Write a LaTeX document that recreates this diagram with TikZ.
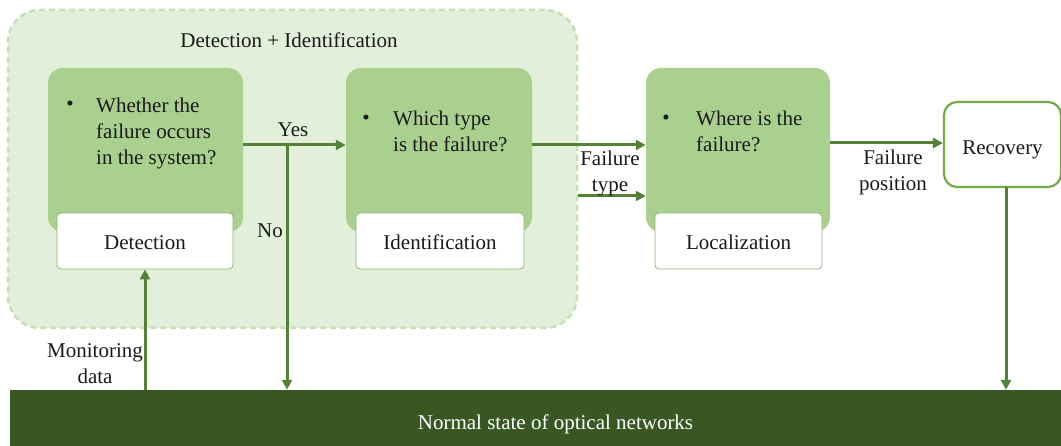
\documentclass[tikz,border=0pt]{standalone}
\usepackage{fontspec}
\setmainfont{Liberation Serif}
\usetikzlibrary{arrows.meta}
\definecolor{panel}{HTML}{A9D08E}
\definecolor{groupfill}{HTML}{E2EFDA}
\definecolor{groupline}{HTML}{C5E0B4}
\definecolor{flow}{HTML}{548235}
\definecolor{recline}{HTML}{70AD47}
\definecolor{base}{HTML}{385723}
\definecolor{ink}{HTML}{1A1A1A}
\newcommand{\lowered}[2]{\raisebox{-#1}[0pt][0pt]{#2}}
\tikzset{
  txt/.style={font=\fontsize{21}{26}\selectfont, text=ink},
  groupbox/.style={draw=groupline, fill=groupfill, line width=2.5pt, dash pattern=on 6pt off 4pt,
    rounded corners=32pt, minimum width=569pt, minimum height=318pt, inner sep=0pt},
  stagebox/.style={fill=panel, rounded corners=15pt, minimum height=164pt, inner sep=0pt},
  namebox/.style={txt, draw=panel!85!black, fill=white, line width=0.8pt, rounded corners=4pt,
    minimum height=56pt, inner sep=0pt},
  recbox/.style={txt, draw=recline, fill=white, line width=2.2pt, rounded corners=13pt,
    minimum width=117pt, minimum height=85pt, inner sep=0pt},
  question/.style={txt, align=left, anchor=north west, inner sep=0pt},
  dot/.style={txt, inner sep=0pt},
  lbl/.style={txt, align=center, inner sep=0pt},
  link/.style={draw=flow, line width=3pt, -{Triangle[length=10pt,width=10pt]}},
  plainlink/.style={draw=flow, line width=3pt},
}
\begin{document}
\begin{tikzpicture}[x=1pt,y=-1pt]
\useasboundingbox (0,0) rectangle (1061,446);

% grouped stages
\node[groupbox] (group) at (292.5,169) {};
\node[txt] (grouptitle) at (289,40) {Detection + Identification};

% detection
\node[stagebox, minimum width=195pt] (det) at (145.5,150) {};
\node[namebox, minimum width=176pt] (detname) at (145,241) {\lowered{9pt}{Detection}};
\node[dot] (detdot) at (70,106) {•};
\node[question] (detq) at (96,98) {Whether the\\failure occurs\\in the system?};

% identification
\node[stagebox, minimum width=186pt] (idf) at (439,150) {};
\node[namebox, minimum width=168pt] (idfname) at (440,241) {\lowered{9pt}{Identification}};
\node[dot] (idfdot) at (366,120) {•};
\node[question] (idfq) at (393,111) {Which type\\is the failure?};

% localization
\node[stagebox, minimum width=184pt] (loc) at (738,150) {};
\node[namebox, minimum width=167pt] (locname) at (738.5,241) {\lowered{9pt}{Localization}};
\node[dot] (locdot) at (666,120) {•};
\node[question] (locq) at (696,111) {Where is the\\failure?};

% recovery
\node[recbox] (rec) at (1002.5,144.5) {\lowered{10.5pt}{Recovery}};

% network state bar (runs on past the right edge)
\node[fill=base, minimum width=1091pt, minimum height=56pt, inner sep=0pt,
  text=white, font=\fontsize{21}{26}\selectfont] (net) at (555.5,418) {\lowered{12pt}{Normal state of optical networks}};

% connectors
\coordinate (split) at (287,145);
\draw[plainlink] ([yshift=5pt]det.east) -- (split);
\draw[link] (split) -- ([yshift=5pt]idf.west);
\draw[link] (split) -- (split |- net.north);
\draw[link] (net.north -| detname.south) -- (detname.south);
\draw[link] ([yshift=5pt]idf.east) -- ([yshift=5pt]loc.west);
\coordinate (typeout) at (group.east |- 0,196);
\draw[link] (typeout) -- (loc.west |- typeout);
\draw[link] ([yshift=7pt]loc.east) -- (rec.west |- 0,143);
\coordinate (recdown) at (1006,187);
\draw[link] (recdown) -- (recdown |- net.north);

% labels
\node[lbl] (yes) at (293,130) {Yes};
\node[lbl] (no) at (270,231) {No};
\node[lbl] (ftype) at (610,173) {Failure\\type};
\node[lbl] (fpos) at (893,172) {Failure\\position};
\node[lbl] (mon) at (95,364) {Monitoring\\data};
\end{tikzpicture}
\end{document}
